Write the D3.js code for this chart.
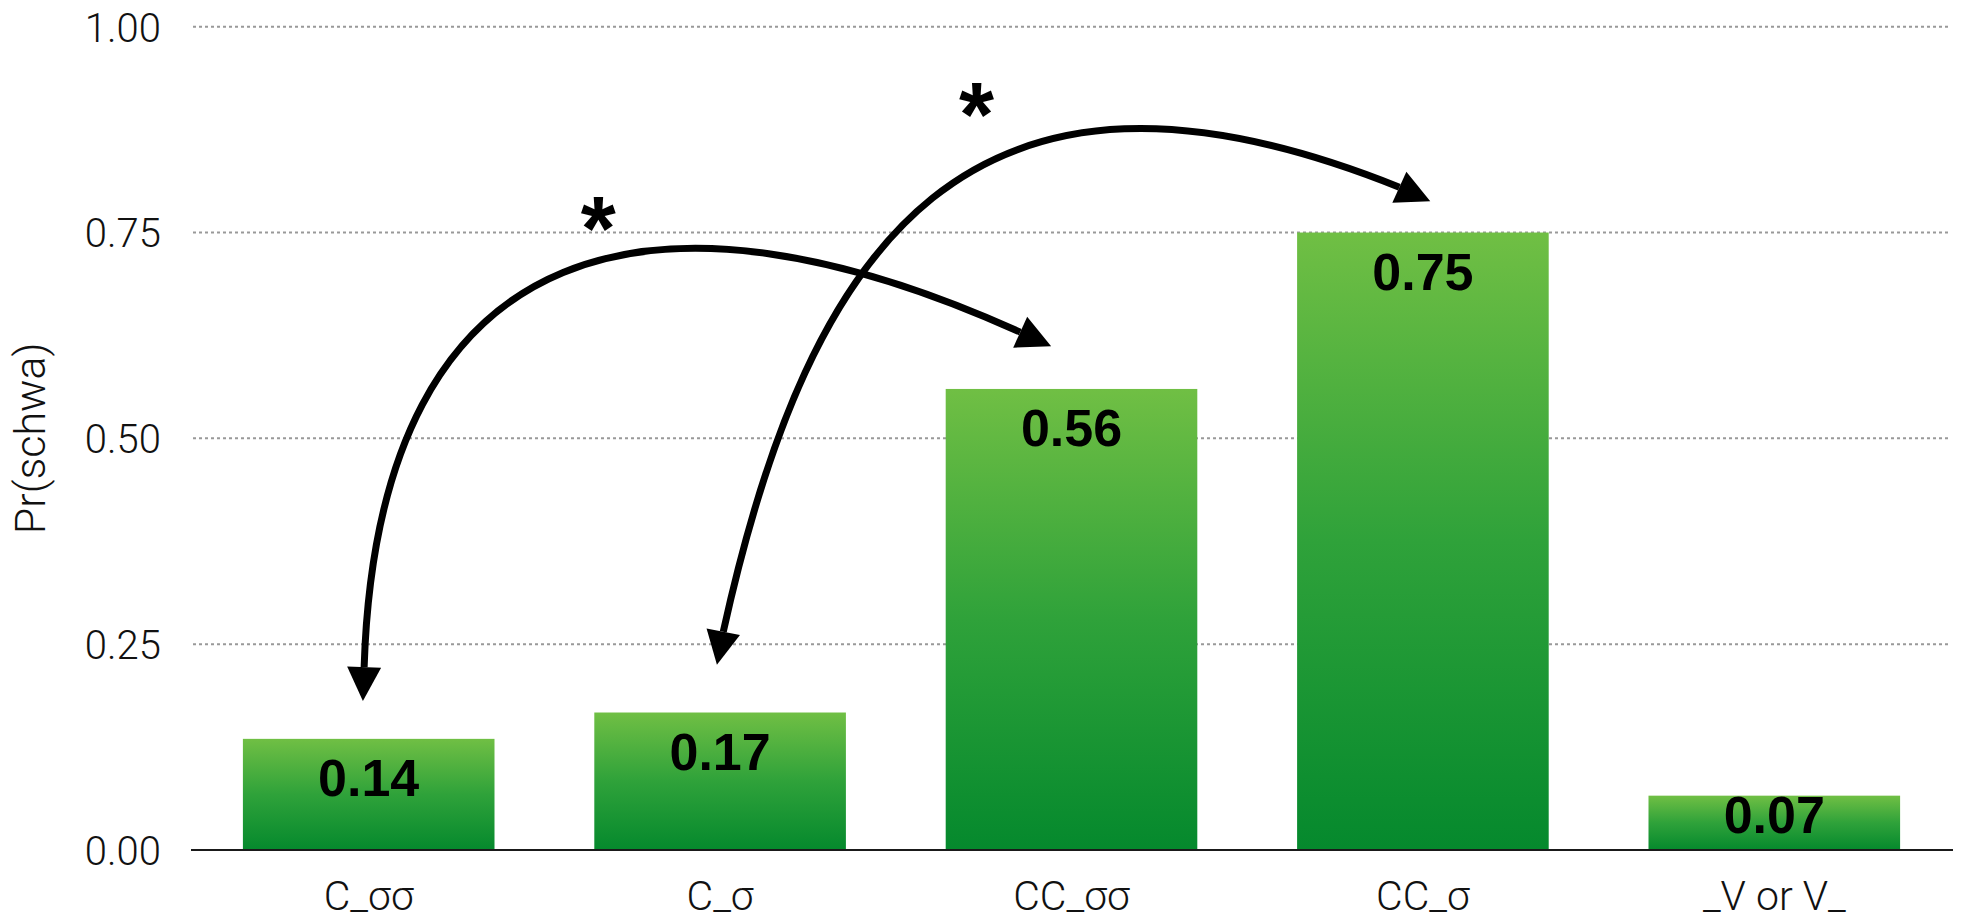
<!DOCTYPE html>
<html>
<head>
<meta charset="utf-8">
<script src="https://cdn.jsdelivr.net/npm/d3@7"></script>
<style>
  html, body { margin: 0; padding: 0; background: #ffffff; }
  svg { display: block; }
</style>
</head>
<body>
<svg id="chart" width="1963" height="921"></svg>
<script>
// ---------- data ----------
const categories = ["C_σσ", "C_σ", "CC_σσ", "CC_σ", "_V or V_"];
const values = [0.135, 0.167, 0.56, 0.75, 0.066];
const valueLabels = ["0.14", "0.17", "0.56", "0.75", "0.07"];
const yTicks = [0, 0.25, 0.5, 0.75, 1.0];
const yTickLabels = ["0.00", "0.25", "0.50", "0.75", "1.00"];
const yTitle = "Pr(schwa)";

// annotation arrows, in data units: [category index, probability]
const arrow1Path = [[-0.013, 0.222], [-0.003, 0.307], [0.018, 0.368], [0.052, 0.437], [0.128, 0.519],
                    [0.203, 0.571], [0.280, 0.619], [0.411, 0.668], [0.556, 0.704], [0.746, 0.727],
                    [0.92, 0.731], [1.108, 0.727], [1.254, 0.715], [1.399, 0.699], [1.616, 0.666], [1.854, 0.629]];
const arrow1Tips = [[-0.0165, 0.181], [1.942, 0.612]];
const arrow2Path = [[1.009, 0.265], [1.020, 0.288], [1.054, 0.344], [1.141, 0.470], [1.234, 0.571],
                    [1.399, 0.696], [1.621, 0.802], [1.876, 0.854], [2.231, 0.874], [2.574, 0.856],
                    [2.765, 0.834], [2.933, 0.805]];
const arrow2Tips = [[0.991, 0.225], [3.021, 0.788]];
const starMarks = [[0.653, 0.780], [1.730, 0.918]];
const starText = "*";

// ---------- layout ----------
const svg = d3.select("#chart");
const x = d3.scaleBand().domain(categories).range([193, 1950]).paddingInner(0.284).paddingOuter(0.142);
const y = d3.scaleLinear().domain([0, 1]).range([850, 26.7]);
const xi = d3.scaleLinear().domain([0, categories.length - 1])
  .range([x(categories[0]) + x.bandwidth() / 2, x(categories[categories.length - 1]) + x.bandwidth() / 2]);

const lightFont = "Roboto, 'Liberation Sans', sans-serif";

// gradient
const defs = svg.append("defs");
const grad = defs.append("linearGradient").attr("id", "barGrad")
  .attr("x1", 0).attr("y1", 0).attr("x2", 0).attr("y2", 1);
grad.append("stop").attr("offset", "0%").attr("stop-color", "#70bf44");
grad.append("stop").attr("offset", "50%").attr("stop-color", "#2fa23a");
grad.append("stop").attr("offset", "100%").attr("stop-color", "#05892d");

// gridlines
const gridTicks = yTicks.filter(d => d > 0);
svg.append("g").selectAll("line").data(gridTicks).join("line")
  .attr("x1", 193).attr("x2", 1951)
  .attr("y1", d => y(d)).attr("y2", d => y(d))
  .attr("stroke", "#999").attr("stroke-width", 2).attr("stroke-dasharray", "3,3");

// y axis tick labels
const yAxis = d3.axisLeft(y).tickValues(yTicks).tickSize(0).tickPadding(0)
  .tickFormat((d, i) => yTickLabels[i]);
const gy = svg.append("g").attr("transform", "translate(161,0)").call(yAxis);
gy.select(".domain").remove();
gy.selectAll("text")
  .attr("font-family", lightFont).attr("font-weight", 300)
  .attr("font-size", 40).attr("fill", "#111").attr("dy", "0.36em");

// y title
svg.append("text")
  .attr("transform", `translate(45,${(y(0) + y(1)) / 2}) rotate(-90)`)
  .attr("text-anchor", "middle")
  .attr("font-family", lightFont).attr("font-weight", 300)
  .attr("font-size", 43).attr("fill", "#111")
  .text(yTitle);

// bars
svg.append("g").selectAll("rect").data(values).join("rect")
  .attr("x", (d, i) => x(categories[i]))
  .attr("y", d => y(d))
  .attr("width", x.bandwidth())
  .attr("height", d => y(0) - y(d))
  .attr("fill", "url(#barGrad)");

// x axis baseline
svg.append("line")
  .attr("x1", 191).attr("x2", 1953).attr("y1", y(0)).attr("y2", y(0))
  .attr("stroke", "#1a1a1a").attr("stroke-width", 2);

// x axis labels
const xAxis = d3.axisBottom(x).tickSize(0).tickPadding(0);
const gx = svg.append("g").attr("transform", `translate(0,${y(0)})`).call(xAxis);
gx.select(".domain").remove();
gx.selectAll("text")
  .attr("font-family", lightFont).attr("font-weight", 300)
  .attr("font-size", 41).attr("fill", "#111")
  .attr("dy", null).attr("y", 60);

// value labels
svg.append("g").selectAll("text").data(values).join("text")
  .attr("x", (d, i) => x(categories[i]) + x.bandwidth() / 2)
  .attr("y", d => Math.min(y(d) + 57, y(0) - 17))
  .attr("text-anchor", "middle")
  .attr("font-family", "'Liberation Sans', Arial, sans-serif").attr("font-weight", 700)
  .attr("font-size", 52).attr("fill", "#000")
  .text((d, i) => valueLabels[i]);

// arrows: least-squares cubic Bezier through the sampled points, with reparameterisation
function bez(c, t) {
  const u = 1 - t;
  const b0 = u * u * u, b1 = 3 * u * u * t, b2 = 3 * u * t * t, b3 = t * t * t;
  return [b0 * c[0][0] + b1 * c[1][0] + b2 * c[2][0] + b3 * c[3][0],
          b0 * c[0][1] + b1 * c[1][1] + b2 * c[2][1] + b3 * c[3][1]];
}
function solveCtrl(pts, T) {
  const P0 = pts[0], P3 = pts[pts.length - 1];
  let a11 = 0, a12 = 0, a22 = 0, rx1 = 0, rx2 = 0, ry1 = 0, ry2 = 0;
  pts.forEach((q, i) => {
    const t = T[i], u = 1 - t;
    const b0 = u * u * u, b1 = 3 * u * u * t, b2 = 3 * u * t * t, b3 = t * t * t;
    const rx = q[0] - b0 * P0[0] - b3 * P3[0];
    const ry = q[1] - b0 * P0[1] - b3 * P3[1];
    a11 += b1 * b1; a12 += b1 * b2; a22 += b2 * b2;
    rx1 += b1 * rx; rx2 += b2 * rx; ry1 += b1 * ry; ry2 += b2 * ry;
  });
  const det = a11 * a22 - a12 * a12;
  return [P0,
          [(rx1 * a22 - rx2 * a12) / det, (ry1 * a22 - ry2 * a12) / det],
          [(a11 * rx2 - a12 * rx1) / det, (a11 * ry2 - a12 * ry1) / det],
          P3];
}
function fitCubic(pts) {
  const d = [0];
  for (let i = 1; i < pts.length; i++) d.push(d[i - 1] + Math.hypot(pts[i][0] - pts[i - 1][0], pts[i][1] - pts[i - 1][1]));
  let T = d.map(v => v / d[d.length - 1]);
  let c = solveCtrl(pts, T);
  for (let it = 0; it < 40; it++) {
    const samples = d3.range(0, 1.0001, 0.001).map(t => [t, bez(c, t)]);
    T = pts.map((q, i) => {
      if (i === 0) return 0;
      if (i === pts.length - 1) return 1;
      let best = 0, bd = Infinity;
      samples.forEach(([t, p]) => {
        const dd = (p[0] - q[0]) ** 2 + (p[1] - q[1]) ** 2;
        if (dd < bd) { bd = dd; best = t; }
      });
      return best;
    });
    c = solveCtrl(pts, T);
  }
  return c;
}
const P = p => [xi(p[0]), y(p[1])];
function drawArrow(pathPts, tips) {
  const g = svg.append("g");
  const px = pathPts.map(P);
  const [c0, c1, c2, c3] = fitCubic(px);
  const path = d3.path();
  path.moveTo(c0[0], c0[1]);
  path.bezierCurveTo(c1[0], c1[1], c2[0], c2[1], c3[0], c3[1]);
  g.append("path").attr("d", path.toString())
    .attr("fill", "none").attr("stroke", "#000").attr("stroke-width", 7);
  const ends = [[pathPts[0], tips[0]], [pathPts[pathPts.length - 1], tips[1]]];
  ends.forEach(([b, t]) => {
    const B = P(b), Tp = P(t);
    const dx = Tp[0] - B[0], dy = Tp[1] - B[1];
    const len = Math.hypot(dx, dy);
    const nx = -dy / len, ny = dx / len, hw = 17;
    g.append("path")
      .attr("d", `M${Tp[0]},${Tp[1]}L${B[0] + nx * hw},${B[1] + ny * hw}L${B[0] - nx * hw},${B[1] - ny * hw}Z`)
      .attr("fill", "#000");
  });
}
drawArrow(arrow1Path, arrow1Tips);
drawArrow(arrow2Path, arrow2Tips);

// significance stars
svg.append("g").selectAll("text").data(starMarks).join("text")
  .attr("x", d => xi(d[0]))
  .attr("y", d => y(d[1]) + 52)
  .attr("text-anchor", "middle")
  .attr("font-family", "'Liberation Sans', Arial, sans-serif").attr("font-weight", 700)
  .attr("font-size", 90).attr("fill", "#000")
  .text(starText);
</script>
</body>
</html>
